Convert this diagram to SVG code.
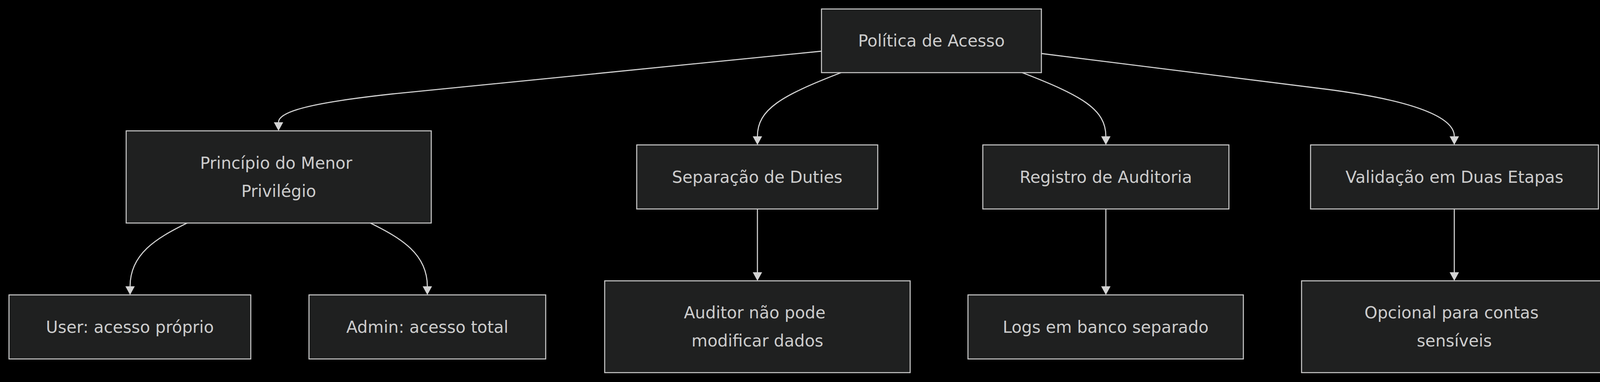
<svg xmlns="http://www.w3.org/2000/svg" width="4137" height="978" viewBox="0 0 4137 978">
<style>
.node rect{fill:#1f2020;stroke:#cccccc;stroke-width:2.6}
.node text{fill:#cccccc;font-family:"DejaVu Sans","Liberation Sans",sans-serif;font-size:42px;text-anchor:middle}
.edges path{fill:none;stroke:#d3d3d3;stroke-width:2.8}
</style>
<defs>
<marker id="arrow" viewBox="0 0 22 24" refX="0" refY="12" markerWidth="22" markerHeight="24" markerUnits="userSpaceOnUse" orient="auto">
<path d="M0,0 L22,12 L0,24 z" fill="#d3d3d3"/>
</marker>
</defs>
<rect width="4137" height="978" fill="#000000"/>
<g class="edges">
<path marker-end="url(#arrow)" d="M2103,131 L1000,241 C800,263 713,285 713,313"/>
<path marker-end="url(#arrow)" d="M2153,186 C2000,245 1939,280 1939,349"/>
<path marker-end="url(#arrow)" d="M2617,186 C2770,245 2831,280 2831,349"/>
<path marker-end="url(#arrow)" d="M2666,137 L3400,229 C3620,258 3723,300 3723,349"/>
<path marker-end="url(#arrow)" d="M479,571 C400,610 333,650 333,733"/>
<path marker-end="url(#arrow)" d="M948,571 C1027,610 1094,650 1094,733"/>
<path marker-end="url(#arrow)" d="M1939,535 L1939,697"/>
<path marker-end="url(#arrow)" d="M2831,535 L2831,733"/>
<path marker-end="url(#arrow)" d="M3723,535 L3723,697"/>
</g>
<g id="politica" class="node">
<rect x="2103" y="23" width="563" height="163"/>
<text x="2384.5" y="119">Política de Acesso</text>
</g>
<g id="principio" class="node">
<rect x="323" y="335" width="781" height="236"/>
<text x="707" y="432">Princípio do Menor</text>
<text x="713.5" y="504">Privilégio</text>
</g>
<g id="separacao" class="node">
<rect x="1630" y="371" width="617" height="164"/>
<text x="1938.5" y="468">Separação de Duties</text>
</g>
<g id="registro" class="node">
<rect x="2516" y="371" width="630" height="164"/>
<text x="2831" y="468">Registro de Auditoria</text>
</g>
<g id="validacao" class="node">
<rect x="3355" y="371" width="737" height="164"/>
<text x="3723.5" y="468">Validação em Duas Etapas</text>
</g>
<g id="user" class="node">
<rect x="23" y="755" width="619" height="164"/>
<text x="332.5" y="852">User: acesso próprio</text>
</g>
<g id="admin" class="node">
<rect x="791" y="755" width="606" height="164"/>
<text x="1094" y="852">Admin: acesso total</text>
</g>
<g id="auditor" class="node">
<rect x="1548" y="719" width="782" height="235"/>
<text x="1932" y="815">Auditor não pode</text>
<text x="1939" y="887">modificar dados</text>
</g>
<g id="logs" class="node">
<rect x="2478" y="755" width="705" height="164"/>
<text x="2830.5" y="852">Logs em banco separado</text>
</g>
<g id="opcional" class="node">
<rect x="3332" y="719" width="782" height="235"/>
<text x="3716" y="815">Opcional para contas</text>
<text x="3723" y="887">sensíveis</text>
</g>
</svg>
